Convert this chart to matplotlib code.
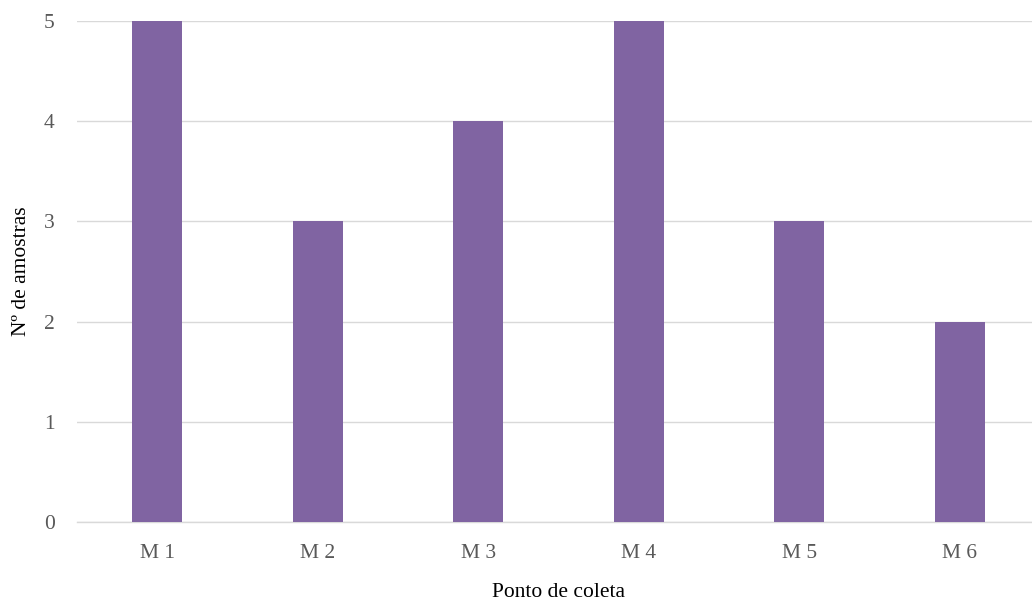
import matplotlib.pyplot as plt

pontos = ['M 1', 'M 2', 'M 3', 'M 4', 'M 5', 'M 6']
amostras = [5, 3, 4, 5, 3, 2]

plt.rcParams['font.family'] = ['Liberation Serif', 'DejaVu Serif']

fig = plt.figure(figsize=(10.32, 6.01), dpi=100)
# the category band runs a little past the right edge of the canvas
ax = fig.add_axes([77 / 1032, 79 / 601, 963 / 1032, 501 / 601])

x = range(len(pontos))
ax.bar(x, amostras, width=0.31, color='#8064A2', zorder=3)

ax.set_xlim(-0.5, len(pontos) - 0.5)
ax.set_ylim(0, 5)
ax.set_yticks(range(0, 6))
ax.set_xticks(list(x))
ax.set_xticklabels(pontos)

ax.grid(axis='y', color='#D9D9D9', linewidth=1.0, zorder=0)
for s in ['top', 'right', 'left']:
    ax.spines[s].set_visible(False)
ax.spines['bottom'].set_color('#D9D9D9')
ax.spines['bottom'].set_linewidth(1.0)
ax.tick_params(axis='both', length=0, labelsize=15.5, labelcolor='#595959')
ax.tick_params(axis='y', pad=16)
ax.tick_params(axis='x', pad=16)

ax.set_xlabel('Ponto de coleta', fontsize=15.5, color='black', labelpad=14)
ax.set_ylabel('Nº de amostras', fontsize=15.5, color='black')
ax.yaxis.set_label_coords(-46 / 963, 0.5)

fig.savefig('out.png', dpi=100)
